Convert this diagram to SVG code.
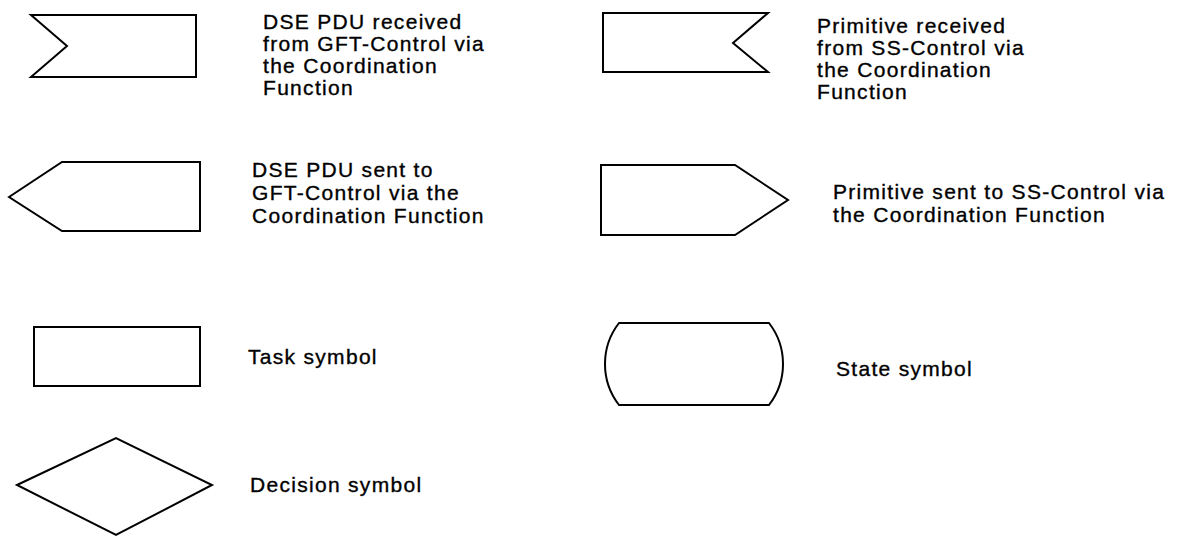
<svg xmlns="http://www.w3.org/2000/svg" width="1185" height="539" viewBox="0 0 1185 539">
<style>
.s{fill:#fff;stroke:#000;stroke-width:2;stroke-linejoin:miter}
.t{font-family:"Liberation Sans",Arial,sans-serif;font-size:21px;letter-spacing:1.3px;fill:#000;stroke:#000;stroke-width:0.35px}
</style>
<rect width="1185" height="539" fill="#fff"/>
<g id="input-gft">
<polygon class="s" points="31,15 196,15 196,77 31,77 67,46"/>
<text class="t" x="263" y="29"><tspan x="263">DSE PDU received</tspan><tspan x="263" dy="22">from GFT-Control via</tspan><tspan x="263" dy="22">the Coordination</tspan><tspan x="263" dy="22">Function</tspan></text>
</g>
<g id="input-ss">
<polygon class="s" points="603,13 768,13 733,43 768,72 603,72"/>
<text class="t" x="817" y="33"><tspan x="817">Primitive received</tspan><tspan x="817" dy="22">from SS-Control via</tspan><tspan x="817" dy="22">the Coordination</tspan><tspan x="817" dy="22">Function</tspan></text>
</g>
<g id="output-gft">
<polygon class="s" points="9,197 62,162 200,162 200,231 62,231"/>
<text class="t" x="252" y="177"><tspan x="252">DSE PDU sent to</tspan><tspan x="252" dy="23">GFT-Control via the</tspan><tspan x="252" dy="23">Coordination Function</tspan></text>
</g>
<g id="output-ss">
<polygon class="s" points="601,165 735,165 788,200 735,235 601,235"/>
<text class="t" x="833" y="199"><tspan x="833">Primitive sent to SS-Control via</tspan><tspan x="833" dy="23">the Coordination Function</tspan></text>
</g>
<g id="task">
<rect class="s" x="34" y="327" width="166" height="59"/>
<text class="t" x="248" y="364">Task symbol</text>
</g>
<g id="state">
<path class="s" d="M619,323 L769,323 A67,67 0 0 1 769,405 L619,405 A67,67 0 0 1 619,323 Z"/>
<text class="t" x="836" y="376">State symbol</text>
</g>
<g id="decision">
<polygon class="s" points="17,485 116,438 212,485 116,535"/>
<text class="t" x="250" y="492">Decision symbol</text>
</g>
</svg>
